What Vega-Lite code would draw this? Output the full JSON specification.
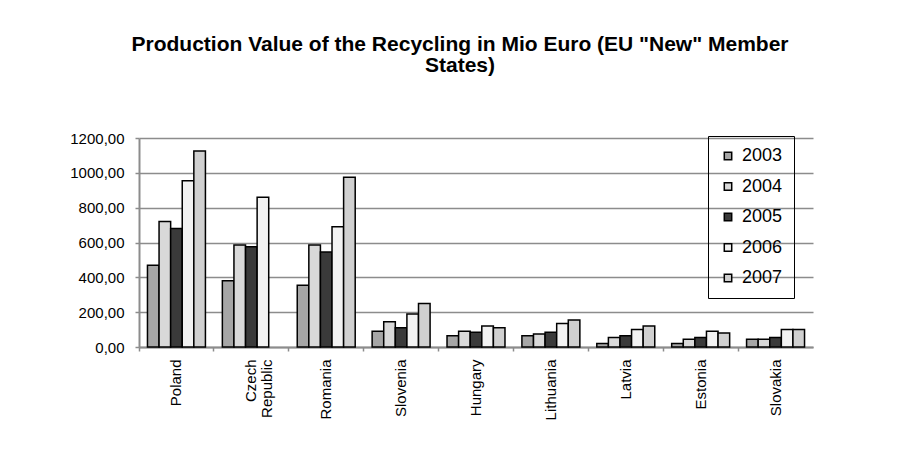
{
  "$schema": "https://vega.github.io/schema/vega-lite/v6.json",
  "autosize": "none",
  "width": 674,
  "height": 209,
  "padding": {"left": 139, "top": 138, "right": 111, "bottom": 114},
  "background": "white",
  "title": {
    "text": ["Production Value of the Recycling in Mio Euro (EU \"New\" Member", "States)"],
    "font": "Liberation Sans",
    "fontSize": 21,
    "fontWeight": "bold",
    "color": "black",
    "anchor": "middle",
    "dx": -16,
    "offset": 55,
    "lineHeight": 21
  },
  "data": {
    "values": [
      {"country": "Poland", "year": "2003", "value": 470},
      {"country": "Poland", "year": "2004", "value": 720},
      {"country": "Poland", "year": "2005", "value": 680},
      {"country": "Poland", "year": "2006", "value": 955},
      {"country": "Poland", "year": "2007", "value": 1125},
      {"country": "Czech Republic", "year": "2003", "value": 380},
      {"country": "Czech Republic", "year": "2004", "value": 585},
      {"country": "Czech Republic", "year": "2005", "value": 575},
      {"country": "Czech Republic", "year": "2006", "value": 860},
      {"country": "Romania", "year": "2003", "value": 355},
      {"country": "Romania", "year": "2004", "value": 585},
      {"country": "Romania", "year": "2005", "value": 545},
      {"country": "Romania", "year": "2006", "value": 690},
      {"country": "Romania", "year": "2007", "value": 975},
      {"country": "Slovenia", "year": "2003", "value": 90},
      {"country": "Slovenia", "year": "2004", "value": 145},
      {"country": "Slovenia", "year": "2005", "value": 110},
      {"country": "Slovenia", "year": "2006", "value": 190},
      {"country": "Slovenia", "year": "2007", "value": 250},
      {"country": "Hungary", "year": "2003", "value": 65},
      {"country": "Hungary", "year": "2004", "value": 90},
      {"country": "Hungary", "year": "2005", "value": 85},
      {"country": "Hungary", "year": "2006", "value": 120},
      {"country": "Hungary", "year": "2007", "value": 110},
      {"country": "Lithuania", "year": "2003", "value": 65},
      {"country": "Lithuania", "year": "2004", "value": 75},
      {"country": "Lithuania", "year": "2005", "value": 85},
      {"country": "Lithuania", "year": "2006", "value": 135},
      {"country": "Lithuania", "year": "2007", "value": 155},
      {"country": "Latvia", "year": "2003", "value": 20},
      {"country": "Latvia", "year": "2004", "value": 55},
      {"country": "Latvia", "year": "2005", "value": 65},
      {"country": "Latvia", "year": "2006", "value": 100},
      {"country": "Latvia", "year": "2007", "value": 120},
      {"country": "Estonia", "year": "2003", "value": 20},
      {"country": "Estonia", "year": "2004", "value": 45},
      {"country": "Estonia", "year": "2005", "value": 55},
      {"country": "Estonia", "year": "2006", "value": 90},
      {"country": "Estonia", "year": "2007", "value": 80},
      {"country": "Slovakia", "year": "2003", "value": 45},
      {"country": "Slovakia", "year": "2004", "value": 45},
      {"country": "Slovakia", "year": "2005", "value": 55},
      {"country": "Slovakia", "year": "2006", "value": 100},
      {"country": "Slovakia", "year": "2007", "value": 100}
    ]
  },
  "mark": {"type": "bar", "stroke": "black", "strokeWidth": 1.5},
  "encoding": {
    "x": {
      "field": "country",
      "type": "nominal",
      "sort": ["Poland", "Czech Republic", "Romania", "Slovenia", "Hungary", "Lithuania", "Latvia", "Estonia", "Slovakia"],
      "scale": {"paddingInner": 0, "paddingOuter": 0},
      "axis": {
        "title": null,
        "bandPosition": 0,
        "labelAngle": -90,
        "labelFont": "Liberation Sans",
        "labelFontSize": 15,
        "labelColor": "black",
        "labelPadding": 8,
        "labelLineHeight": 16,
        "labelExpr": "datum.label == 'Czech Republic' ? ['Czech', 'Republic'] : datum.label",
        "domainColor": "#8c8c8c",
        "domainWidth": 2,
        "tickColor": "#8c8c8c",
        "tickWidth": 1.5,
        "tickSize": 4,
        "grid": false
      }
    },
    "xOffset": {
      "field": "year",
      "type": "nominal",
      "scale": {"paddingInner": 0, "paddingOuter": 0.73}
    },
    "y": {
      "field": "value",
      "type": "quantitative",
      "scale": {"domain": [0, 1200]},
      "axis": {
        "title": null,
        "values": [0, 200, 400, 600, 800, 1000, 1200],
        "labelExpr": "replace(format(datum.value, '.2f'), '.', ',')",
        "labelFont": "Liberation Sans",
        "labelFontSize": 15,
        "labelColor": "black",
        "labelPadding": 11,
        "domainColor": "#8c8c8c",
        "domainWidth": 2,
        "tickColor": "#8c8c8c",
        "tickWidth": 1.5,
        "tickSize": 4,
        "gridColor": "#8c8c8c",
        "gridWidth": 1.5
      }
    },
    "fill": {
      "field": "year",
      "type": "nominal",
      "scale": {
        "domain": ["2003", "2004", "2005", "2006", "2007"],
        "range": ["#a6a6a6", "#d9d9d9", "#3a3a3a", "#f2f2f2", "#d0d0d0"]
      },
      "legend": {
        "title": null,
        "orient": "none",
        "legendX": 569,
        "legendY": -2,
        "strokeColor": "black",
        "padding": 11,
        "symbolType": "square",
        "symbolSize": 55,
        "symbolStrokeColor": "black",
        "symbolStrokeWidth": 1.5,
        "labelFont": "Liberation Sans",
        "labelFontSize": 18,
        "labelColor": "black",
        "rowPadding": 12.5,
        "labelOffset": 5
      }
    }
  },
  "config": {
    "view": {"stroke": null}
  }
}
